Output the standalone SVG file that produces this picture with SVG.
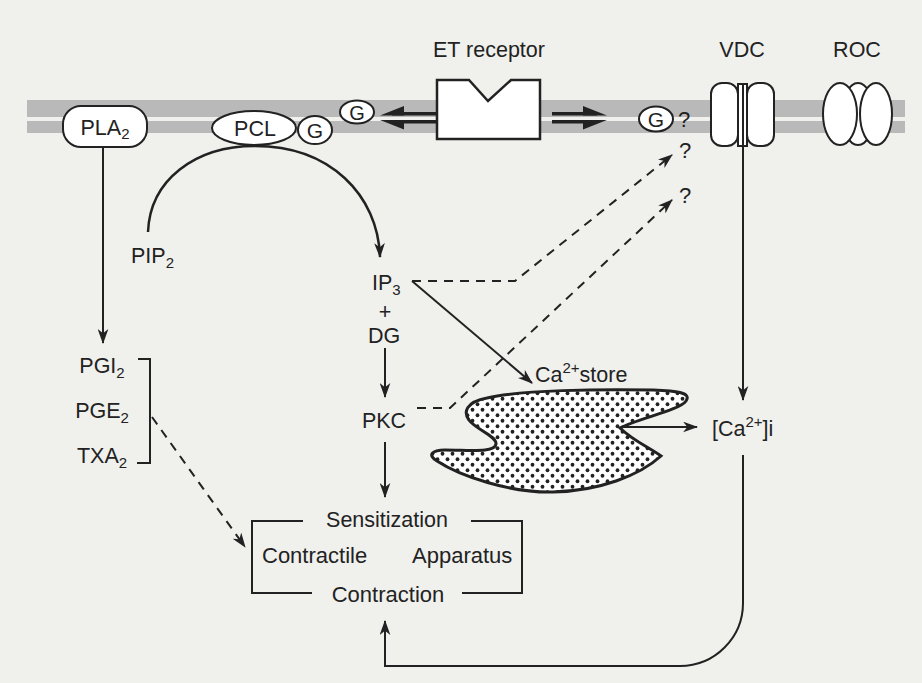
<svg xmlns="http://www.w3.org/2000/svg" width="922" height="683" viewBox="0 0 922 683">
  <defs>
    <style>
      text { font-family: "Liberation Sans", Arial, sans-serif; fill: #222; font-size: 21.5px; }
      .mid { text-anchor: middle; }
      .sub { font-size: 15px; }
      .ln { fill: none; stroke: #222; stroke-width: 2; }
      .dash { fill: none; stroke: #222; stroke-width: 2; stroke-dasharray: 9 7; }
      .shape { fill: #fff; stroke: #222; stroke-width: 2; }
      .band { fill: #b9b9b9; }
      .head { fill: #222; stroke: none; }
    </style>
    <marker id="arr" viewBox="0 0 14 10" refX="13" refY="5" markerWidth="15" markerHeight="11" markerUnits="userSpaceOnUse" orient="auto">
      <path d="M0,0 L14,5 L0,10 L4,5 z" fill="#222"/>
    </marker>
    <pattern id="dots" width="10" height="11" patternUnits="userSpaceOnUse">
      <rect width="10" height="11" fill="#fff"/>
      <circle cx="2.5" cy="2.75" r="1.9" fill="#222"/>
      <circle cx="7.5" cy="8.25" r="1.9" fill="#222"/>
    </pattern>
  </defs>

  <rect x="0" y="0" width="922" height="683" fill="#f0f0ed"/>

  <g id="membrane">
    <rect class="band" x="27" y="100" width="878" height="17"/>
    <rect class="band" x="27" y="121" width="878" height="12"/>
  </g>

  <g id="connectors">
    <path class="ln" d="M103,147 V343" marker-end="url(#arr)"/>
    <path class="ln" style="stroke-width:2.5" d="M148,232 C150,180 195,146 255,146 C330,146 378,195 380,257" marker-end="url(#arr)"/>
    <path class="ln" d="M412,281 L532,383" marker-end="url(#arr)"/>
    <path class="dash" d="M412,281 H515 L672,155" marker-end="url(#arr)"/>
    <path class="dash" d="M417,408 H450 L672,200" marker-end="url(#arr)"/>
    <path class="ln" d="M385,348 V397" marker-end="url(#arr)"/>
    <path class="ln" d="M385,442 V497" marker-end="url(#arr)"/>
    <path class="ln" d="M743,146 V400" marker-end="url(#arr)"/>
    <path class="ln" d="M620,427 H697" marker-end="url(#arr)"/>
    <path class="ln" d="M743,455 V603 A63,63 0 0 1 680,666 H385 V621" marker-end="url(#arr)"/>
    <path class="dash" d="M152,417 L245,547" marker-end="url(#arr)"/>
    <g id="arrow-left">
      <rect class="head" x="392" y="112" width="45" height="3.5"/>
      <rect class="head" x="392" y="120" width="45" height="3.5"/>
      <polygon class="head" points="380,115.5 404,106 404,115.5"/>
      <polygon class="head" points="380,120 404,129.5 404,120"/>
    </g>
    <g id="arrow-right">
      <rect class="head" x="552" y="112" width="45" height="3.5"/>
      <rect class="head" x="552" y="120" width="45" height="3.5"/>
      <polygon class="head" points="607,115.5 583,106 583,115.5"/>
      <polygon class="head" points="607,120 583,129.5 583,120"/>
    </g>
  </g>

  <g id="et-receptor">
    <path class="shape" d="M437,80 H469 L488,101 L511,80 H540 V139 H437 Z" style="stroke-width:2.5"/>
    <text class="mid" x="489" y="57">ET receptor</text>
  </g>

  <g id="pla2">
    <rect class="shape" x="63" y="106" width="84" height="41" rx="18"/>
    <text class="mid" x="105" y="135">PLA<tspan class="sub" dy="4">2</tspan></text>
  </g>

  <g id="pcl">
    <ellipse class="shape" cx="254" cy="128" rx="42" ry="17"/>
    <text class="mid" x="255" y="135.5">PCL</text>
  </g>

  <g id="g-pcl">
    <ellipse class="shape" cx="315" cy="130" rx="17" ry="14"/>
    <text class="mid" x="315" y="137.5" style="font-size:21px">G</text>
  </g>

  <g id="g-left">
    <ellipse class="shape" cx="357" cy="112" rx="17" ry="11.5"/>
    <text class="mid" x="357" y="119.5" style="font-size:20px">G</text>
  </g>

  <g id="g-right">
    <ellipse class="shape" cx="656" cy="119" rx="17" ry="12.5"/>
    <text class="mid" x="656" y="127" style="font-size:21px">G</text>
    <text class="mid" x="684" y="127" style="font-size:22px">?</text>
  </g>

  <g id="q2"><text class="mid" x="685" y="158" style="font-size:22px">?</text></g>
  <g id="q3"><text class="mid" x="685" y="203" style="font-size:22px">?</text></g>

  <g id="vdc">
    <rect class="shape" x="711" y="83" width="27" height="63" rx="11"/>
    <rect class="shape" x="747" y="83" width="27" height="63" rx="11"/>
    <rect class="shape" x="738" y="84" width="9" height="62"/>
    <line class="ln" x1="743" y1="84" x2="743" y2="146"/>
    <text class="mid" x="742" y="57">VDC</text>
  </g>

  <g id="roc">
    <ellipse class="shape" cx="858" cy="114" rx="16" ry="31"/>
    <ellipse class="shape" cx="840" cy="114" rx="17" ry="31"/>
    <ellipse class="shape" cx="876" cy="114" rx="16" ry="31"/>
    <text class="mid" x="857" y="57">ROC</text>
  </g>

  <g id="pip2">
    <text x="131" y="263">PIP<tspan class="sub" dy="5">2</tspan></text>
  </g>

  <g id="ip3-dg">
    <text x="372" y="290">IP<tspan class="sub" dy="5">3</tspan></text>
    <text class="mid" x="385" y="319">+</text>
    <text class="mid" x="384" y="343">DG</text>
  </g>

  <g id="pkc">
    <text class="mid" x="384" y="428">PKC</text>
  </g>

  <g id="ca-store">
    <path d="M487,398 C520,390 600,389 653,390 C675,391 692,392 686,401 C680,410 640,418 620,428 C632,440 650,448 661,456 C640,475 600,491 553,492 C510,493 460,476 437,461 C427,455 432,450 445,450 C470,450 495,453 496,444 C497,436 475,429 469,420 C463,412 466,402 487,398 Z" fill="url(#dots)" stroke="#222" stroke-width="3"/>
    <text x="535" y="382">Ca<tspan class="sub" dy="-9">2+</tspan><tspan dy="9">store</tspan></text>
  </g>

  <g id="ca-i">
    <text x="712" y="436">[Ca<tspan class="sub" dy="-9">2+</tspan><tspan dy="9">]i</tspan></text>
  </g>

  <g id="prostaglandins">
    <text class="mid" x="102" y="373">PGI<tspan class="sub" dy="5">2</tspan></text>
    <text class="mid" x="102" y="418">PGE<tspan class="sub" dy="5">2</tspan></text>
    <text class="mid" x="102" y="463">TXA<tspan class="sub" dy="5">2</tspan></text>
    <path class="ln" d="M138,359 H150 V463 H137"/>
  </g>

  <g id="contractile-apparatus">
    <path class="ln" d="M303,521 H252 V593 H312"/>
    <path class="ln" d="M471,521 H522 V593 H462"/>
    <text class="mid" x="387" y="527">Sensitization</text>
    <text x="262" y="563" style="font-size:22px">Contractile</text>
    <text x="412" y="563" style="font-size:22px">Apparatus</text>
    <text class="mid" x="388" y="602" style="font-size:22px">Contraction</text>
  </g>
</svg>
